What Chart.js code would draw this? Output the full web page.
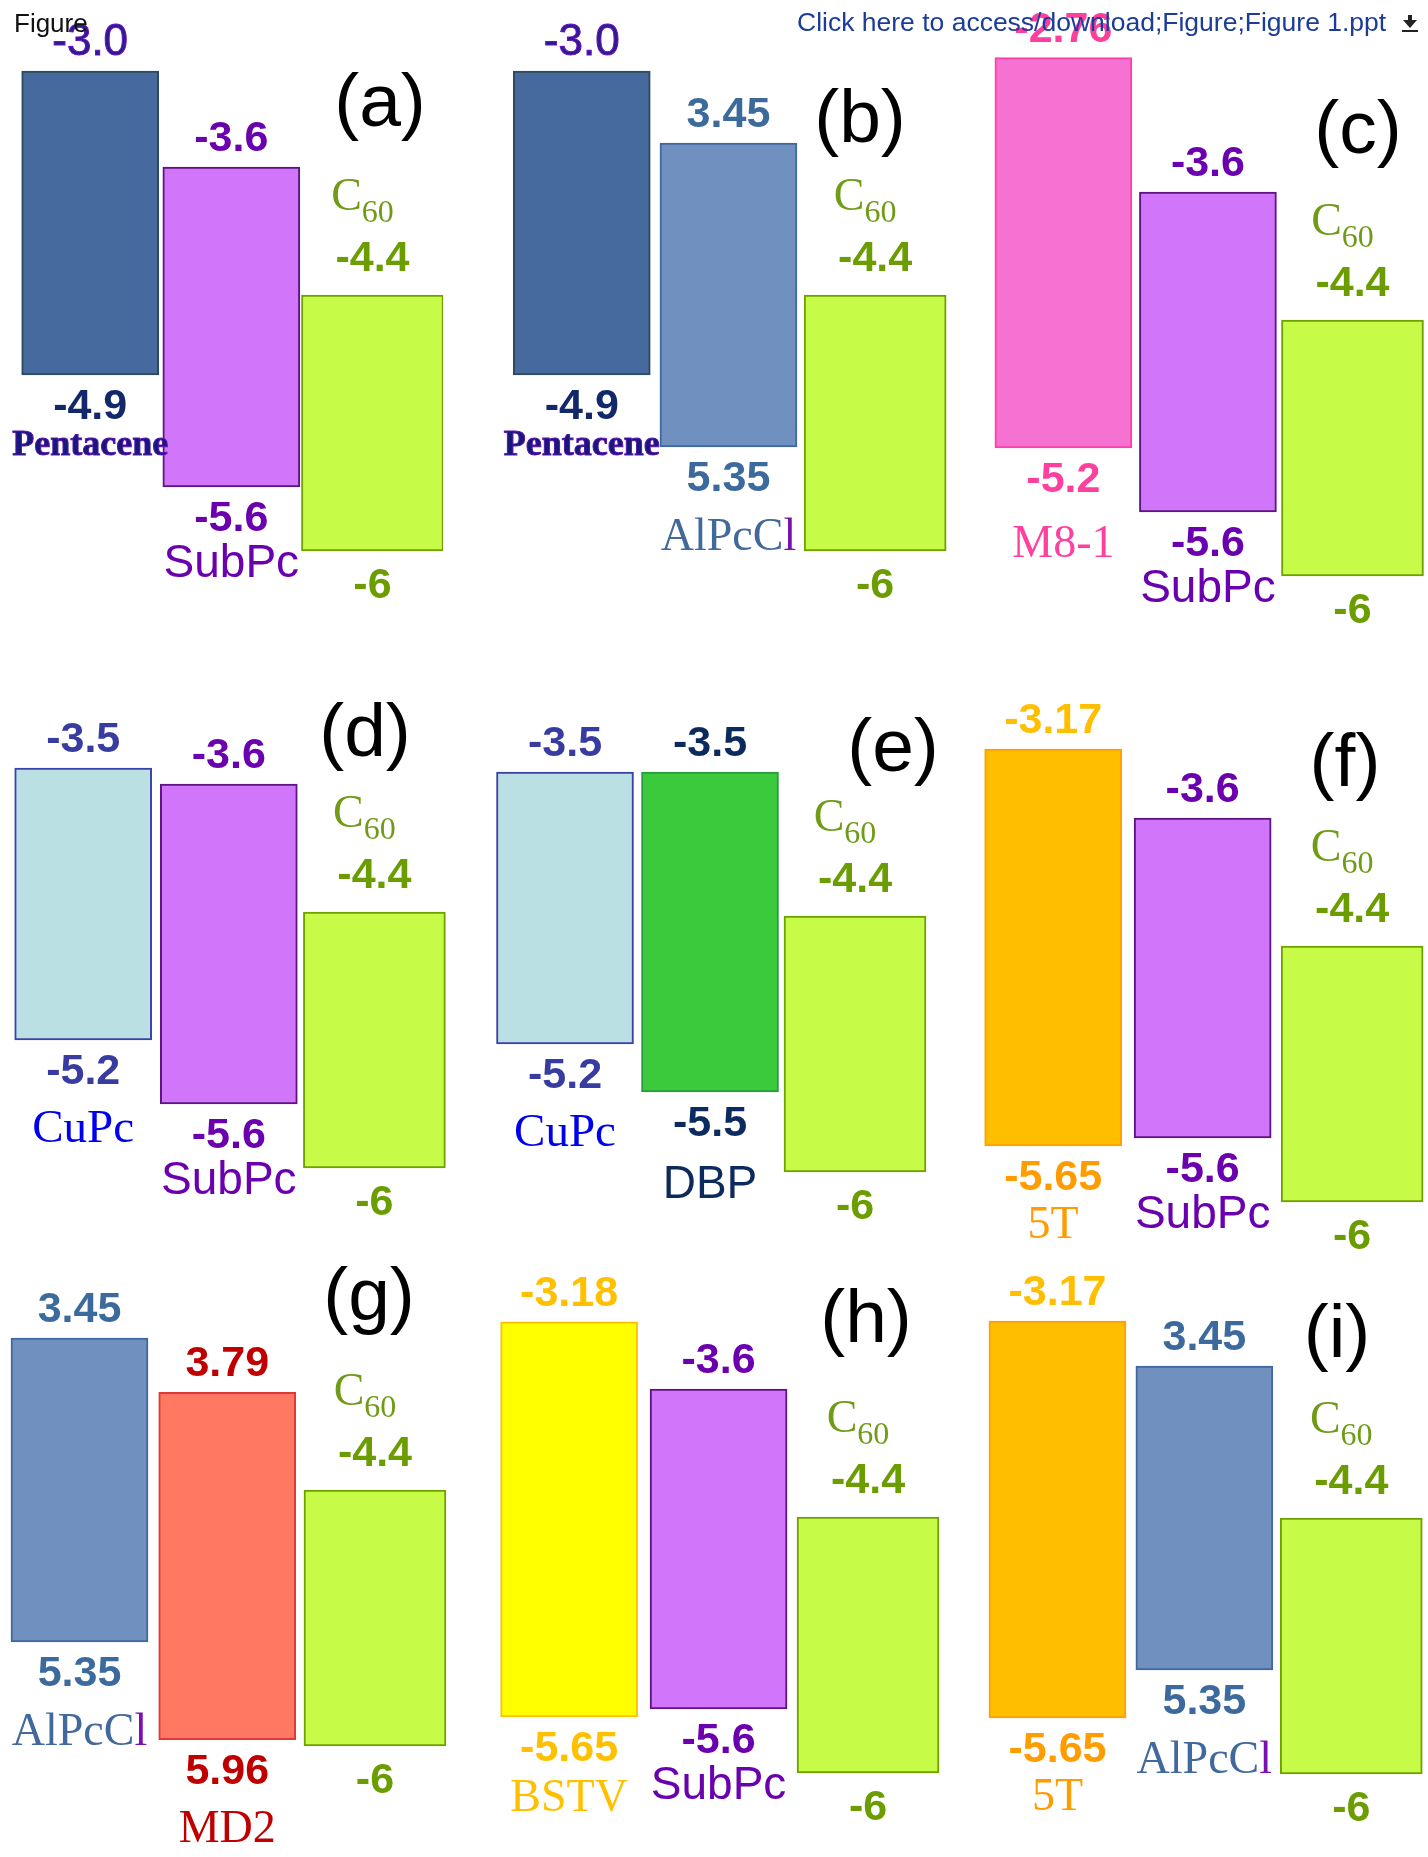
<!DOCTYPE html>
<html>
<head>
<meta charset="utf-8">
<title>Energy levels</title>
<script src="https://cdn.jsdelivr.net/npm/chart.js@4.4.0/dist/chart.umd.min.js"></script>
<style>
  body { margin: 0; width: 1428px; height: 1857px; position: relative; overflow: hidden; background: #fff; }
  canvas.panel { position: absolute; }
  .head { position: absolute; font-family: "Liberation Sans", Arial, sans-serif; line-height: 1; white-space: nowrap; z-index: 5; }
  #fig { left: 14px; top: 10px; font-size: 26px; color: #111; }
  #link { left: 797px; top: 9px; font-size: 26.5px; color: #1b3c97; }
  #dl { position: absolute; left: 1402px; top: 15px; width: 16px; height: 18px; z-index: 5; }
  #dl .tri { position: absolute; left: 1px; top: 5px; width: 0; height: 0; border-left: 7px solid transparent; border-right: 7px solid transparent; border-top: 8px solid #222; }
  #dl .stem { position: absolute; left: 6px; top: 0; width: 4px; height: 6px; background: #222; }
  #dl .bar { position: absolute; left: 0; top: 15px; width: 16px; height: 2px; background: #222; }
</style>
</head>
<body>
<div class="head" id="fig">Figure</div>
<div class="head" id="link">Click here to access/download;Figure;Figure 1.ppt</div>
<div id="dl"><div class="stem"></div><div class="tri"></div><div class="bar"></div></div>

<script>
// ---- data (eV) ----
const panelLetters = ['(a)', '(b)', '(c)', '(d)', '(e)', '(f)', '(g)', '(h)', '(i)'];

const mat1Names = ['Pentacene', 'Pentacene', 'M8-1', 'CuPc', 'CuPc', '5T', 'AlPcCl', 'BSTV', '5T'];
const mat1Lumo  = [-3.0, -3.0, -2.76, -3.5, -3.5, -3.17, -3.45, -3.18, -3.17];
const mat1Homo  = [-4.9, -4.9, -5.2, -5.2, -5.2, -5.65, -5.35, -5.65, -5.65];

const mat2Names = ['SubPc', 'AlPcCl', 'SubPc', 'SubPc', 'DBP', 'SubPc', 'MD2', 'SubPc', 'AlPcCl'];
const mat2Lumo  = [-3.6, -3.45, -3.6, -3.6, -3.5, -3.6, -3.79, -3.6, -3.45];
const mat2Homo  = [-5.6, -5.35, -5.6, -5.6, -5.5, -5.6, -5.96, -5.6, -5.35];

const c60Lumo = [-4.4, -4.4, -4.4, -4.4, -4.4, -4.4, -4.4, -4.4, -4.4];
const c60Homo = [-6, -6, -6, -6, -6, -6, -6, -6, -6];

// these materials are labelled without the minus sign in the figure
const unsignedNames = ['AlPcCl', 'MD2'];

// ---- layout ----
const Y_MAX = -2.4, Y_MIN = -6.5;
const AREA_H = 656;            // 160 px per eV
const CANVAS_W = 476, CANVAS_H = 760;
const colLeft  = [0, 476, 952, 0, 476, 952, 0, 476, 952];
const areaLeft = [19.6, 508.4, 991.1, 10.4, 492.5, 978.4, 5.6, 494.4, 984];
const catWidth = [141.15, 146.7, 144.55, 145.6, 145, 149.5, 147.75, 149.45, 146.9];
const areaTop  = [-25, -25, 0, 592, 596, 626, 1170, 1197, 1198];
const letterPos = [[380, 126], [860, 142], [1358, 153], [365, 756], [893, 771],
                   [1345, 786], [369, 1320], [866, 1342], [1337, 1357]];

const SANS = '"Liberation Sans", Arial, sans-serif';
const SERIF = '"Liberation Serif", "Times New Roman", serif';
const VALUE_FONT = 'bold 43px ' + SANS;
const LETTER_FONT = '75px ' + SANS;

// ---- styles ----
const matStyle = {
  'Pentacene': { fill: '#46699e', border: '#2c4a5c', top: '#2c1c8c', bottom: '#12286a', gap: 36,
                 topFont: '44px ' + SANS, topStroke: '#6a10c8',
                 name: [{ t: 'Pentacene', font: 'bold 36px ' + SERIF, color: '#16187a', stroke: '#5a14b0' }] },
  'SubPc':  { fill: '#d175fa', border: '#5c1480', top: '#6a00ae', bottom: '#6a00ae', gap: 46,
              name: [{ t: 'SubPc', font: '46px ' + SANS, color: '#6a00ae' }] },
  'AlPcCl': { fill: '#7090c0', border: '#4068a0', top: '#3c6a9c', bottom: '#3c6a9c', gap: 59,
              name: [{ t: 'AlPcC', font: '46px ' + SERIF, color: '#41699b' },
                     { t: 'l', font: '46px ' + SERIF, color: '#7b10b0' }] },
  'M8-1':   { fill: '#f572d2', border: '#ff40a8', top: '#ff3f9e', bottom: '#ff3f9e', gap: 65,
              name: [{ t: 'M8-1', font: '46px ' + SERIF, color: '#ff40a0' }] },
  'CuPc':   { fill: '#bbe0e4', border: '#3c42a8', top: '#383ca0', bottom: '#383ca0', gap: 58,
              name: [{ t: 'CuPc', font: '47px ' + SERIF, color: '#0000f0' }] },
  'DBP':    { fill: '#3bca3b', border: '#2a9a40', top: '#0d2a5e', bottom: '#0d2a5e', gap: 62,
              name: [{ t: 'DBP', font: '46px ' + SANS, color: '#0d2a5e' }] },
  '5T':     { fill: '#ffbf00', border: '#ffa000', top: '#ffbf00', bottom: '#ff9c00', gap: 48,
              name: [{ t: '5T', font: '46px ' + SERIF, color: '#ff9c00' }] },
  'MD2':    { fill: '#ff7862', border: '#e03838', top: '#c00000', bottom: '#c00000', gap: 58,
              name: [{ t: 'MD2', font: '46px ' + SERIF, color: '#c00000' }] },
  'BSTV':   { fill: '#ffff00', border: '#ffc000', top: '#ffc000', bottom: '#ffc000', gap: 50,
              name: [{ t: 'BSTV', font: '46px ' + SERIF, color: '#ffc000' }] },
  'C60':    { fill: '#c6fc48', border: '#72a000', top: '#6b9d00', bottom: '#6b9d00', gap: 0,
              name: [{ t: 'C', font: '46px ' + SERIF, color: '#6f9b18' },
                     { t: '60', font: '32px ' + SERIF, color: '#6f9b18', dy: 12 }] }
};

function fmt(v, name) {
  let s = (Number.isInteger(v) && name !== 'C60') ? v.toFixed(1) : String(v);
  if (unsignedNames.includes(name)) s = s.replace('-', '');
  return s;
}

function drawRich(ctx, parts, cx, baseline) {
  let w = 0;
  parts.forEach(p => { ctx.font = p.font; w += ctx.measureText(p.t).width; });
  let x = cx - w / 2;
  parts.forEach(p => {
    ctx.font = p.font;
    ctx.fillStyle = p.color;
    ctx.fillText(p.t, x, baseline + (p.dy || 0));
    if (p.stroke) {
      // thin coloured outline round the glyphs, as in the figure
      ctx.strokeStyle = p.stroke;
      ctx.lineWidth = 1;
      ctx.strokeText(p.t, x, baseline + (p.dy || 0));
    }
    x += ctx.measureText(p.t).width;
  });
}

// values, names and panel letter drawn next to the bars
const levelLabels = {
  id: 'levels',
  afterDatasetsDraw(chart, args, opts) {
    const ctx = chart.ctx;
    ctx.save();
    ctx.textAlign = 'left';
    ctx.textBaseline = 'alphabetic';
    chart.data.datasets.forEach((ds, k) => {
      const el = chart.getDatasetMeta(k).data[k];
      const name = ds.label;
      const st = matStyle[name];
      const isC60 = name === 'C60';
      const top = Math.min(el.y, el.base);
      const bottom = Math.max(el.y, el.base);
      const lumo = ds.data[k][0], homo = ds.data[k][1];

      const topBase = top - (isC60 ? 24 : 16);
      drawRich(ctx, [{ t: fmt(lumo, name), font: st.topFont || VALUE_FONT, color: st.top, stroke: st.topStroke }],
               el.x, topBase);
      const botBase = bottom + (isC60 ? 47 : 44);
      drawRich(ctx, [{ t: fmt(homo, name), font: VALUE_FONT, color: st.bottom }], el.x, botBase);

      if (isC60) {
        drawRich(ctx, st.name, el.x - 10, topBase - 61);
      } else {
        drawRich(ctx, st.name, el.x, botBase + st.gap);
      }
    });
    ctx.font = LETTER_FONT;
    ctx.fillStyle = '#000';
    ctx.textAlign = 'center';
    ctx.fillText(opts.letter, opts.x, opts.y);
    ctx.restore();
  }
};

for (let p = 0; p < 9; p++) {
  const canvas = document.createElement('canvas');
  canvas.className = 'panel';
  canvas.width = CANVAS_W;
  canvas.height = CANVAS_H;
  canvas.style.left = colLeft[p] + 'px';
  canvas.style.top = areaTop[p] + 'px';
  document.body.insertBefore(canvas, document.getElementById('fig'));

  const names = [mat1Names[p], mat2Names[p], 'C60'];
  const lumos = [mat1Lumo[p], mat2Lumo[p], c60Lumo[p]];
  const homos = [mat1Homo[p], mat2Homo[p], c60Homo[p]];

  const datasets = names.map((n, k) => ({
    label: n,
    data: [0, 1, 2].map(j => (j === k ? [lumos[k], homos[k]] : null)),
    backgroundColor: matStyle[n].fill,
    borderColor: matStyle[n].border,
    borderWidth: 2,
    borderSkipped: false,
    barThickness: k === 2 ? 142 : 137,
    grouped: false
  }));

  const padLeft = areaLeft[p] - colLeft[p];
  new Chart(canvas.getContext('2d'), {
    type: 'bar',
    data: { labels: names, datasets: datasets },
    options: {
      responsive: false,
      animation: false,
      devicePixelRatio: 1,
      layout: {
        padding: {
          left: padLeft,
          right: CANVAS_W - padLeft - 3 * catWidth[p],
          top: 0,
          bottom: CANVAS_H - AREA_H
        }
      },
      scales: {
        x: { display: false },
        y: { display: false, min: Y_MIN, max: Y_MAX }
      },
      plugins: {
        legend: { display: false },
        tooltip: { enabled: false },
        levels: {
          letter: panelLetters[p],
          x: letterPos[p][0] - colLeft[p],
          y: letterPos[p][1] - areaTop[p]
        }
      }
    },
    plugins: [levelLabels]
  });
}
</script>
</body>
</html>
